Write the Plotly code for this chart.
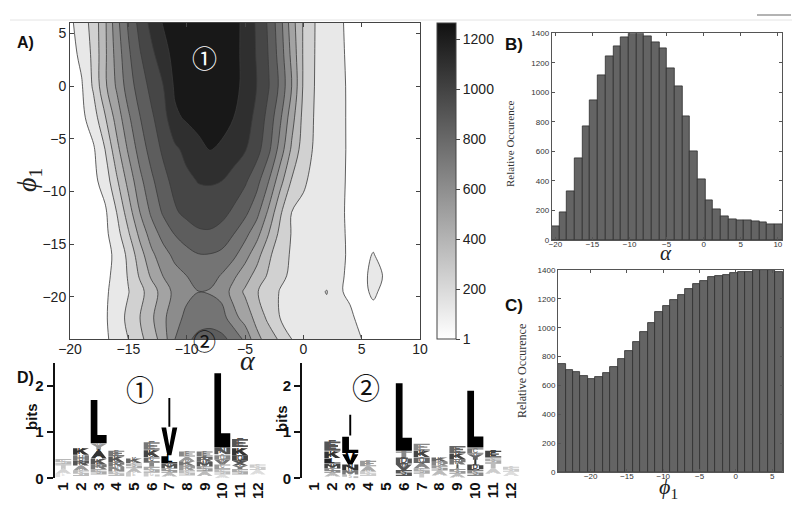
import plotly.graph_objects as go

W, H = 800, 526
OFF = 8  # the page body adds an 8 px margin around the figure

# ---------------- Panel A: density of (alpha, phi1) ----------------
alpha_grid = list(range(-20, 11))
phi_grid = [-24, -22, -19.5, -18, -16, -14, -12, -9, -6, -3, 0, 3, 6]
density = [
    [40, 50, 70, 95, 158, 230, 318, 402, 517, 690, 785, 830, 840, 830, 776, 661, 494, 409, 325, 230, 215, 200, 185, 170, 150, 115, 80, 30, 30, 30, 30],
    [40, 50, 70, 100, 176, 256, 345, 441, 552, 646, 720, 760, 770, 740, 619, 527, 425, 319, 230, 215, 200, 190, 175, 160, 130, 90, 40, 30, 30, 30, 30],
    [40, 50, 70, 100, 150, 225, 309, 408, 508, 610, 660, 688, 680, 650, 531, 443, 355, 281, 225, 210, 195, 180, 237, 125, 100, 60, 150, 60, 30, 30, 30],
    [40, 50, 65, 90, 145, 240, 360, 480, 580, 650, 690, 740, 735, 680, 600, 510, 420, 330, 250, 215, 198, 180, 160, 130, 100, 60, 170, 100, 30, 30, 30],
    [40, 50, 60, 80, 140, 259, 411, 550, 646, 720, 770, 800, 800, 780, 720, 621, 506, 374, 268, 220, 200, 180, 160, 140, 100, 60, 125, 30, 30, 30, 30],
    [40, 50, 65, 88, 185, 331, 493, 632, 734, 812, 860, 900, 905, 875, 810, 727, 617, 465, 316, 224, 202, 180, 158, 136, 100, 60, 40, 30, 30, 30, 30],
    [40, 50, 70, 95, 230, 402, 575, 713, 821, 904, 950, 975, 975, 955, 900, 832, 728, 555, 364, 228, 203, 179, 155, 132, 100, 60, 40, 30, 30, 30, 30],
    [45, 60, 85, 163, 326, 497, 658, 783, 882, 959, 1009, 1040, 1045, 1035, 994, 938, 846, 697, 504, 335, 246, 196, 167, 137, 100, 60, 40, 30, 30, 30, 30],
    [50, 70, 100, 230, 422, 591, 741, 853, 942, 1013, 1067, 1113, 1155, 1132, 1088, 1044, 964, 838, 644, 441, 288, 213, 178, 142, 100, 60, 40, 30, 30, 30, 30],
    [55, 88, 173, 333, 506, 669, 801, 903, 988, 1130, 1165, 1195, 1205, 1190, 1152, 1095, 1000, 884, 713, 508, 310, 219, 180, 141, 100, 60, 40, 30, 30, 30, 30],
    [60, 105, 246, 437, 591, 747, 862, 953, 1035, 1170, 1215, 1240, 1245, 1230, 1190, 1117, 1035, 930, 782, 575, 333, 225, 183, 140, 100, 60, 40, 30, 30, 30, 30],
    [75, 140, 258, 438, 620, 783, 911, 1011, 1100, 1195, 1232, 1255, 1255, 1235, 1190, 1118, 1027, 917, 758, 545, 334, 228, 182, 138, 95, 60, 40, 30, 30, 30, 30],
    [90, 175, 270, 440, 650, 820, 960, 1070, 1160, 1220, 1250, 1265, 1260, 1240, 1190, 1120, 1020, 905, 735, 515, 335, 230, 180, 135, 90, 60, 40, 30, 30, 30, 30],
]
level_start, level_end, level_step = 115, 1150, 115
colorbar_ticks = [1, 200, 400, 600, 800, 1000, 1200]
colorbar_max = 1265

# ---------------- Panel B: histogram of alpha ----------------
alpha_bin_start = -20.5
alpha_bin_width = 1.037
alpha_counts = [91, 188, 328, 555, 770, 945, 1115, 1241, 1314, 1375, 1400, 1400, 1382, 1341, 1300,
                1162, 1042, 838, 600, 412, 267, 208, 163, 140, 131, 136, 125, 118, 106, 104]

# ---------------- Panel C: histogram of phi1 ----------------
phi_bin_start = -24.5
phi_bin_width = 1.033
phi_counts = [748, 707, 691, 663, 644, 656, 684, 730, 783, 838, 901, 970, 1035, 1107, 1150,
              1192, 1227, 1268, 1301, 1326, 1349, 1358, 1368, 1377, 1384, 1386, 1400, 1400, 1400, 1386]

# ---------------- Panel D: sequence logos (position, letter, bottom bits, top bits, shade) ----------------
logo1 = [
    (1, 'E', 0.03, 0.10, '#e2e2e2'), (1, 'A', 0.10, 0.20, '#d5d5d5'), (1, 'T', 0.20, 0.30, '#c8c8c8'), (1, 'S', 0.30, 0.42, '#b8b8b8'),
    (2, 'S', 0.05, 0.17, '#bbbbbb'), (2, 'A', 0.17, 0.28, '#999999'), (2, 'R', 0.28, 0.38, '#555555'), (2, 'H', 0.38, 0.50, '#777777'), (2, 'K', 0.51, 0.65, '#333333'),
    (3, 'S', 0.08, 0.20, '#aaaaaa'), (3, 'R', 0.20, 0.30, '#777777'), (3, 'K', 0.30, 0.42, '#555555'), (3, 'A', 0.43, 0.60, '#333333'), (3, 'Y', 0.62, 0.75, '#999999'), (3, 'L', 0.76, 1.70, '#000000'),
    (4, 'S', 0.05, 0.15, '#bbbbbb'), (4, 'N', 0.15, 0.25, '#888888'), (4, 'R', 0.25, 0.35, '#777777'), (4, 'K', 0.35, 0.47, '#555555'), (4, 'E', 0.48, 0.60, '#777777'),
    (5, 'E', 0.04, 0.12, '#cccccc'), (5, 'A', 0.12, 0.22, '#bbbbbb'), (5, 'S', 0.22, 0.32, '#aaaaaa'), (5, 'K', 0.33, 0.43, '#666666'),
    (6, 'G', 0.04, 0.12, '#cccccc'), (6, 'S', 0.12, 0.25, '#aaaaaa'), (6, 'T', 0.25, 0.35, '#888888'), (6, 'C', 0.35, 0.45, '#666666'), (6, 'K', 0.46, 0.61, '#444444'), (6, 'E', 0.62, 0.78, '#777777'),
    (7, 'A', 0.04, 0.12, '#bbbbbb'), (7, 'S', 0.12, 0.22, '#999999'), (7, 'M', 0.22, 0.31, '#555555'), (7, 'L', 0.32, 0.48, '#000000'), (7, 'V', 0.50, 1.10, '#000000'), (7, 'I', 1.12, 1.74, '#000000'),
    (8, 'S', 0.06, 0.17, '#bbbbbb'), (8, 'R', 0.17, 0.27, '#999999'), (8, 'K', 0.27, 0.37, '#777777'), (8, 'A', 0.37, 0.46, '#999999'), (8, 'E', 0.47, 0.58, '#888888'),
    (9, 'A', 0.05, 0.15, '#bbbbbb'), (9, 'S', 0.15, 0.26, '#999999'), (9, 'M', 0.26, 0.36, '#555555'), (9, 'R', 0.36, 0.46, '#666666'), (9, 'E', 0.47, 0.58, '#777777'),
    (10, 'A', 0.00, 0.08, '#dddddd'), (10, 'S', 0.08, 0.20, '#bbbbbb'), (10, 'C', 0.20, 0.30, '#999999'), (10, 'V', 0.30, 0.40, '#777777'), (10, 'Q', 0.40, 0.50, '#888888'), (10, 'N', 0.52, 0.66, '#555555'), (10, 'L', 0.67, 2.28, '#000000'),
    (11, 'S', 0.08, 0.20, '#aaaaaa'), (11, 'Y', 0.20, 0.28, '#777777'), (11, 'X', 0.28, 0.38, '#555555'), (11, 'Q', 0.38, 0.50, '#444444'), (11, 'K', 0.50, 0.65, '#333333'), (11, 'E', 0.68, 0.85, '#555555'),
    (12, 'A', 0.08, 0.18, '#dddddd'), (12, 'S', 0.18, 0.30, '#cccccc'),
]
logo2 = [
    (2, 'A', 0.04, 0.12, '#bbbbbb'), (2, 'S', 0.12, 0.22, '#888888'), (2, 'M', 0.22, 0.31, '#444444'), (2, 'L', 0.32, 0.43, '#222222'), (2, 'K', 0.44, 0.58, '#333333'), (2, 'E', 0.60, 0.80, '#555555'),
    (3, 'S', 0.00, 0.08, '#bbbbbb'), (3, 'M', 0.08, 0.18, '#777777'), (3, 'N', 0.18, 0.30, '#333333'), (3, 'V', 0.30, 0.52, '#000000'), (3, 'L', 0.55, 0.90, '#000000'), (3, 'I', 0.93, 1.38, '#000000'),
    (4, 'S', 0.05, 0.15, '#cccccc'), (4, 'A', 0.15, 0.26, '#aaaaaa'), (4, 'E', 0.26, 0.38, '#999999'),
    (6, 'S', 0.05, 0.18, '#555555'), (6, 'V', 0.18, 0.30, '#555555'), (6, 'D', 0.30, 0.45, '#555555'), (6, 'T', 0.45, 0.58, '#888888'), (6, 'L', 0.60, 2.06, '#000000'),
    (7, 'T', 0.02, 0.10, '#cccccc'), (7, 'S', 0.10, 0.22, '#aaaaaa'), (7, 'A', 0.22, 0.33, '#888888'), (7, 'Q', 0.33, 0.45, '#666666'), (7, 'K', 0.46, 0.59, '#444444'), (7, 'E', 0.60, 0.75, '#888888'),
    (8, 'A', 0.06, 0.17, '#bbbbbb'), (8, 'S', 0.17, 0.27, '#999999'), (8, 'R', 0.27, 0.36, '#888888'), (8, 'K', 0.36, 0.45, '#666666'),
    (9, 'A', 0.02, 0.10, '#bbbbbb'), (9, 'S', 0.10, 0.20, '#999999'), (9, 'I', 0.20, 0.30, '#555555'), (9, 'R', 0.30, 0.42, '#777777'), (9, 'K', 0.42, 0.54, '#444444'), (9, 'E', 0.55, 0.70, '#666666'),
    (10, 'S', 0.05, 0.18, '#888888'), (10, 'D', 0.18, 0.30, '#444444'), (10, 'I', 0.30, 0.40, '#333333'), (10, 'Y', 0.40, 0.52, '#666666'), (10, 'C', 0.53, 0.65, '#777777'), (10, 'L', 0.67, 1.90, '#000000'),
    (11, 'A', 0.10, 0.22, '#cccccc'), (11, 'T', 0.22, 0.33, '#bbbbbb'), (11, 'S', 0.33, 0.43, '#aaaaaa'), (11, 'E', 0.45, 0.60, '#444444'),
    (12, 'A', 0.05, 0.14, '#dddddd'), (12, 'S', 0.14, 0.25, '#cccccc'),
]
logo_positions = list(range(1, 13))

# ---------------- helpers ----------------
def fx(px):
    return (px - OFF) / W


def fy(py):
    return 1 - (py - OFF) / H


SANS = 'Liberation Sans, Arial, sans-serif'
SERIF = 'Liberation Serif, Times New Roman, serif'
CIRC = 'Noto Sans CJK JP, DejaVu Sans, sans-serif'
PX_PER_BIT = 46.0


def R(x0, y0, x1, y1):
    return [(x0, y0), (x1, y0), (x1, y1), (x0, y1)]


# simple block-letter outlines in a unit box, stretched to each letter's box (as a logo does)
_O = [R(0, 0.8, 1, 1), R(0, 0, 0.3, 1), R(0, 0, 1, 0.2), R(0.7, 0, 1, 1)]
GLYPHS = {
    'L': [R(0, 0, 0.42, 1), R(0, 0, 1, 0.19)],
    'E': [R(0, 0, 0.3, 1), R(0, 0.8, 1, 1), R(0, 0.4, 0.85, 0.6), R(0, 0, 1, 0.2)],
    'T': [R(0, 0.8, 1, 1), R(0.35, 0, 0.65, 1)],
    'I': [R(0.44, 0, 0.56, 1)],
    'H': [R(0, 0, 0.28, 1), R(0.72, 0, 1, 1), R(0, 0.4, 1, 0.6)],
    'K': [R(0, 0, 0.28, 1), [(0.28, 0.3), (1, 1), (0.66, 1), (0.28, 0.62)], [(0.4, 0.5), (0.68, 0), (1, 0), (0.62, 0.64)]],
    'V': [[(0, 1), (0.37, 0), (0.63, 0), (1, 1), (0.7, 1), (0.5, 0.33), (0.3, 1)]],
    'A': [[(0, 0), (0.38, 1), (0.62, 1), (1, 0), (0.72, 0), (0.64, 0.28), (0.36, 0.28), (0.28, 0)]],
    'Y': [[(0, 1), (0.3, 1), (0.5, 0.62), (0.7, 1), (1, 1), (0.65, 0.45), (0.65, 0), (0.35, 0), (0.35, 0.45)]],
    'X': [[(0, 1), (0.3, 1), (1, 0), (0.7, 0)], [(0.7, 1), (1, 1), (0.3, 0), (0, 0)]],
    'N': [R(0, 0, 0.25, 1), R(0.75, 0, 1, 1), [(0, 1), (0.3, 1), (1, 0), (0.7, 0)]],
    'M': [R(0, 0, 0.22, 1), R(0.78, 0, 1, 1), [(0, 1), (0.25, 1), (0.5, 0.45), (0.75, 1), (1, 1), (0.6, 0.2), (0.4, 0.2)]],
    'C': [R(0, 0.8, 1, 1), R(0, 0, 0.3, 1), R(0, 0, 1, 0.2)],
    'G': [R(0, 0.8, 1, 1), R(0, 0, 0.3, 1), R(0, 0, 1, 0.2), R(0.7, 0, 1, 0.5), R(0.5, 0.38, 1, 0.55)],
    'D': [R(0, 0, 0.28, 1), R(0, 0.8, 0.75, 1), R(0, 0, 0.75, 0.2), R(0.72, 0.15, 1, 0.85)],
    'Q': _O + [[(0.5, 0.35), (0.75, 0.35), (1, 0), (0.75, 0)]],
    'R': [R(0, 0, 0.28, 1), R(0, 0.8, 1, 1), R(0.72, 0.45, 1, 1), R(0, 0.42, 1, 0.6), [(0.45, 0.5), (0.75, 0.5), (1, 0), (0.7, 0)]],
    'S': [R(0, 0.8, 1, 1), R(0, 0.45, 0.3, 1), R(0, 0.4, 1, 0.6), R(0.7, 0, 1, 0.55), R(0, 0, 1, 0.2)],
}


def _ccw(poly):
    a = 0.0
    for i in range(len(poly)):
        x0, y0 = poly[i]
        x1, y1 = poly[(i + 1) % len(poly)]
        a += x0 * y1 - x1 * y0
    return poly if a > 0 else poly[::-1]


def letter_paths(ch, p, lo, hi, w=0.9):
    xs, ys = [], []
    x0 = p - w / 2
    for poly in GLYPHS[ch]:
        poly = _ccw(poly)
        for (u, v) in poly + [poly[0]]:
            xs.append(x0 + u * w)
            ys.append(lo + v * (hi - lo))
        xs.append(None)
        ys.append(None)
    return xs, ys


fig = go.Figure()

# ---- Panel A contour ----
fig.add_trace(go.Contour(
    x=alpha_grid, y=phi_grid, z=density,
    colorscale=[[0, '#ffffff'], [1, '#181818']],
    contours=dict(start=level_start, end=level_end, size=level_step, coloring='fill', showlines=True),
    line=dict(color='#3a3a3a', width=0.8, smoothing=1.0),
    showscale=False, hoverinfo='skip', xaxis='x', yaxis='y'))

# continuous colorbar for panel A
fig.add_trace(go.Scatter(
    x=[-100], y=[-100], mode='markers', xaxis='x', yaxis='y', showlegend=False, hoverinfo='skip',
    marker=dict(size=1, color=[600], cmin=1, cmax=colorbar_max,
                colorscale=[[0, '#ffffff'], [1, '#111111']], showscale=True,
                colorbar=dict(x=fx(437), xanchor='left', y=fy(181.3), yanchor='middle',
                              len=316 / H, lenmode='fraction', thickness=19, thicknessmode='pixels',
                              outlinewidth=1, outlinecolor='#444444', xpad=0, ypad=0,
                              tickvals=colorbar_ticks, ticks='outside', ticklen=4, tickcolor='#444444',
                              tickfont=dict(size=14, family=SANS, color='#222222')))))

# ---- Panel B ----
alpha_centers = [alpha_bin_start + alpha_bin_width * (i + 0.5) for i in range(len(alpha_counts))]
fig.add_trace(go.Bar(x=alpha_centers, y=alpha_counts, width=alpha_bin_width,
                     marker=dict(color='#646464', line=dict(color='#2e2e2e', width=0.8)),
                     xaxis='x2', yaxis='y2', hoverinfo='skip'))

# ---- Panel C ----
phi_centers = [phi_bin_start + phi_bin_width * (i + 0.5) for i in range(len(phi_counts))]
fig.add_trace(go.Bar(x=phi_centers, y=phi_counts, width=phi_bin_width,
                     marker=dict(color='#646464', line=dict(color='#2e2e2e', width=0.8)),
                     xaxis='x3', yaxis='y3', hoverinfo='skip'))

# ---- Panel D logos: stretched letter outlines, with the letters also set as text ----
for logo, xa, ya in [(logo1, 'x4', 'y4'), (logo2, 'x5', 'y5')]:
    by_shade = {}
    tx, ty, tt, ts, tc = [], [], [], [], []
    for (p, ch, lo, hi, shade) in logo:
        gx, gy = letter_paths(ch, p, lo, hi)
        sx, sy = by_shade.setdefault(shade, ([], []))
        sx.extend(gx)
        sy.extend(gy)
        if hi - lo <= 0.25:
            tx.append(p)
            ty.append((lo + hi) / 2)
            tt.append('<b>' + ch + '</b>')
            ts.append(max(4.0, (hi - lo) * PX_PER_BIT / 0.72))
            tc.append(shade)
    for shade in sorted(by_shade, reverse=True):
        sx, sy = by_shade[shade]
        fig.add_trace(go.Scatter(x=sx, y=sy, mode='lines', fill='toself', fillcolor=shade,
                                 line=dict(width=0, color=shade), xaxis=xa, yaxis=ya,
                                 hoverinfo='skip', showlegend=False))
    fig.add_trace(go.Scatter(x=tx, y=ty, text=tt, mode='text', xaxis=xa, yaxis=ya,
                             textposition='middle center', hoverinfo='skip', showlegend=False,
                             textfont=dict(size=ts, color=tc, family=SANS)))

# ---------------- axes ----------------
frame = dict(showline=True, linecolor='#444444', linewidth=1, mirror='ticks', ticks='inside',
             ticklen=4, tickcolor='#444444', showgrid=False, zeroline=False, automargin=False)
small = dict(showline=True, linecolor='#555555', linewidth=1, mirror='ticks', ticks='inside',
             ticklen=3, tickcolor='#555555', showgrid=False, zeroline=False, automargin=False,
             tickfont=dict(size=8, family=SANS, color='#333333'))
logo_x = dict(tickvals=logo_positions, ticktext=['<b>%d</b>' % p for p in logo_positions], tickangle=-90,
              showline=False, ticks='', showgrid=False, zeroline=False, automargin=False,
              tickfont=dict(size=15, family=SANS, color='#111111'))
logo_y = dict(range=[0, 2.5], tickvals=[0, 1, 2], ticktext=['<b>0</b>', '<b>1</b>', '<b>2</b>'],
              showline=True, linecolor='#111111', linewidth=2, ticks='outside', ticklen=6, tickwidth=2,
              tickcolor='#111111', showgrid=False, zeroline=False, automargin=False,
              tickfont=dict(size=15, family=SANS, color='#111111'))

fig.update_layout(
    width=W, height=H, margin=dict(l=0, r=0, t=0, b=0, pad=0, autoexpand=False),
    paper_bgcolor='white', plot_bgcolor='white', showlegend=False, bargap=0,
    xaxis=dict(domain=[fx(70), fx(420)], range=[-20, 10], tickvals=[-20, -15, -10, -5, 0, 5, 10],
               tickfont=dict(size=14, family=SANS, color='#222222'), anchor='y', ticklabelstandoff=-3, **frame),
    yaxis=dict(domain=[fy(339), fy(23)], range=[-24, 6], tickvals=[-20, -15, -10, -5, 0, 5],
               tickfont=dict(size=14, family=SANS, color='#222222'), anchor='x', **frame),
    xaxis2=dict(domain=[fx(551.7), fx(782.3)], range=[-20.5, 10.6], tickvals=[-20, -15, -10, -5, 0, 5, 10],
                anchor='y2', ticklabelstandoff=-4, **small),
    yaxis2=dict(domain=[fy(240), fy(33.3)], range=[0, 1400], tickvals=list(range(0, 1401, 200)),
                anchor='x2', **small),
    xaxis3=dict(domain=[fx(558), fx(783)], range=[-24.5, 6.5], tickvals=[-20, -15, -10, -5, 0, 5],
                anchor='y3', ticklabelstandoff=-4, **small),
    yaxis3=dict(domain=[fy(472), fy(270)], range=[0, 1400], tickvals=list(range(0, 1401, 200)),
                anchor='x3', **small),
    xaxis4=dict(domain=[fx(54.5), fx(266.5)], range=[0.5, 12.5], anchor='y4', **logo_x),
    yaxis4=dict(domain=[fy(478.3), fy(363)], anchor='x4', **logo_y),
    xaxis5=dict(domain=[fx(302), fx(520)], range=[0.3, 12.5], anchor='y5', **logo_x),
    yaxis5=dict(domain=[fy(478.3), fy(363)], anchor='x5', **logo_y),
)


def ann(x, y, text, size, family=SANS, color='#111111', angle=0):
    fig.add_annotation(x=fx(x), y=fy(y), xref='paper', yref='paper', text=text, showarrow=False,
                       font=dict(size=size, family=family, color=color), textangle=angle,
                       xanchor='center', yanchor='middle')


# panel labels
ann(25, 42, '<b>A)</b>', 16)
ann(514, 44, '<b>B)</b>', 17)
ann(514, 305, '<b>C)</b>', 17)
ann(25, 377, '<b>D)</b>', 16)

# axis titles
ann(248, 360, '<i>α</i>', 28, SERIF, '#222222')
ann(28, 180, '<i>ϕ</i><sub>1</sub>', 28, SERIF, '#222222', -90)
ann(666, 253, '<i>α</i>', 21, SERIF, '#222222')
ann(668, 488, '<i>ϕ</i><sub>1</sub>', 22, SERIF, '#222222')
ann(510, 143, 'Relative Occurence', 11, SERIF, '#333333', -90)
ann(522, 371, 'Relative Occurence', 12, SERIF, '#333333', -90)
ann(31, 417, '<b>bits</b>', 15, SANS, '#111111', -90)
ann(281, 419, '<b>bits</b>', 15, SANS, '#111111', -90)

# circled markers
ann(204, 57, '①', 25, CIRC, '#ffffff')
ann(204, 340, '②', 23, CIRC, '#111111')
ann(140, 389, '①', 28, CIRC, '#111111')
ann(366, 387, '②', 28, CIRC, '#111111')

# faint header rule at the top of the figure
fig.add_shape(type='line', xref='paper', yref='paper', x0=fx(10), x1=1, y0=fy(20), y1=fy(20),
              line=dict(color='#e4e4e4', width=1))
fig.add_shape(type='line', xref='paper', yref='paper', x0=fx(757), x1=fx(791), y0=fy(15), y1=fy(15),
              line=dict(color='#9a9a9a', width=1.5))

fig.write_html('out.html')
